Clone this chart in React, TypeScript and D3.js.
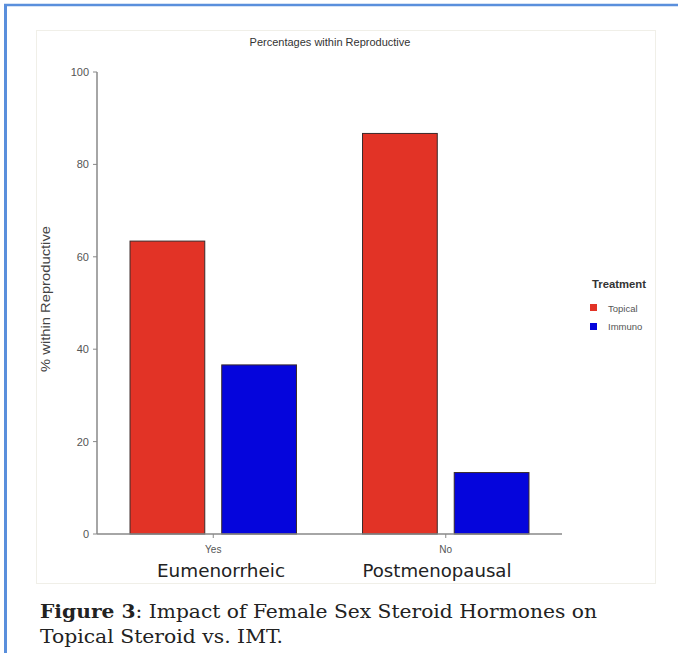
import React from "react";
import * as d3 from "d3";

const categories = ["Yes", "No"];
const categoryNames = ["Eumenorrheic", "Postmenopausal"];
const series = ["Topical", "Immuno"];
const topicalValues = [63.4, 86.7];
const immunoValues = [36.6, 13.3];
const yTicks = [0, 20, 40, 60, 80, 100];

const colors: Record<string, string> = { Topical: "#e23326", Immuno: "#0505dc" };

export default function App() {
  const W = 678, H = 653;
  const y = d3.scaleLinear().domain([0, 100]).range([534, 72]);
  const x0 = d3.scaleBand<string>().domain(categories).range([97, 562]).paddingInner(0).paddingOuter(0);
  const x1 = d3.scaleBand<string>().domain(series).range([0, x0.bandwidth()]).paddingInner(0.185).paddingOuter(0.36);
  const values: Record<string, number[]> = { Topical: topicalValues, Immuno: immunoValues };
  const sans = "Liberation Sans, Arial, sans-serif";
  const nameCenters = [221, 437];
  const nameWidths = [128, 149];
  return (
    <svg width={W} height={H} style={{ position: "absolute", left: 0, top: 0, background: "#fff" }}>
      <rect x={0} y={0} width={W} height={H} fill="#fff" />
      {/* outer frame */}
      <line x1={5.5} y1={4} x2={5.5} y2={H} stroke="#5a8fdc" strokeWidth={3} />
      <line x1={4} y1={5} x2={W} y2={5} stroke="#5a8fdc" strokeWidth={2.5} />
      {/* chart panel */}
      <rect x={36.5} y={30.5} width={619} height={553} fill="#fff" stroke="#f0efe8" strokeWidth={1} />
      <text x={330} y={46} textAnchor="middle" fontFamily={sans} fontSize={11} fill="#333">Percentages within Reproductive</text>
      {/* bars */}
      {categories.map((c, i) =>
        series.map((s) => {
          const v = values[s][i];
          const bx = (x0(c) as number) + (x1(s) as number);
          return (
            <rect key={c + s} x={bx} y={y(v)} width={x1.bandwidth()} height={y(0) - y(v)}
              fill={colors[s]} stroke="#3a2a2a" strokeWidth={1} />
          );
        })
      )}
      {/* y axis */}
      <line x1={97} y1={y(100)} x2={97} y2={y(0)} stroke="#888" strokeWidth={1.5} />
      {yTicks.map((t) => (
        <g key={t}>
          <line x1={93} x2={97} y1={y(t)} y2={y(t)} stroke="#888" strokeWidth={1} />
          <text x={89} y={y(t) + 4} textAnchor="end" fontFamily={sans} fontSize={11} fill="#555">{t}</text>
        </g>
      ))}
      <text transform={`translate(50,${299}) rotate(-90)`} textAnchor="middle" fontFamily={sans} fontSize={12} fill="#444"
        textLength={146} lengthAdjust="spacingAndGlyphs">% within Reproductive</text>
      {/* x axis */}
      <line x1={97} x2={562} y1={y(0)} y2={y(0)} stroke="#888" strokeWidth={1.5} />
      {categories.map((c, i) => {
        const cx = (x0(c) as number) + x0.bandwidth() / 2;
        return (
          <g key={c}>
            <line x1={cx} x2={cx} y1={y(0)} y2={y(0) + 4} stroke="#888" strokeWidth={1} />
            <text x={cx} y={553} textAnchor="middle" fontFamily={sans} fontSize={10} fill="#555">{c}</text>
            <text x={nameCenters[i] - nameWidths[i] / 2} y={577} fontFamily="DejaVu Sans, sans-serif" fontSize={17} fill="#222"
              textLength={nameWidths[i]} lengthAdjust="spacingAndGlyphs">{categoryNames[i]}</text>
          </g>
        );
      })}
      {/* legend */}
      <text x={592} y={288} fontFamily={sans} fontSize={10} fontWeight="bold" fill="#333" textLength={54} lengthAdjust="spacingAndGlyphs">Treatment</text>
      {series.map((s, i) => (
        <g key={s}>
          <rect x={590} y={304 + i * 19} width={7} height={7} fill={colors[s]} />
          <text x={608} y={312 + i * 18} fontFamily={sans} fontSize={9.5} fill="#555">{s}</text>
        </g>
      ))}
      {/* caption */}
      <text x={40} y={618} fontFamily="DejaVu Serif, serif" fontSize={19} fill="#222" textLength={557} lengthAdjust="spacingAndGlyphs">
        <tspan fontWeight="bold">Figure 3</tspan>
        <tspan>: Impact of Female Sex Steroid Hormones on</tspan>
      </text>
      <text x={40} y={643} fontFamily="DejaVu Serif, serif" fontSize={19} fill="#222" textLength={243} lengthAdjust="spacingAndGlyphs">Topical Steroid vs. IMT.</text>
    </svg>
  );
}
